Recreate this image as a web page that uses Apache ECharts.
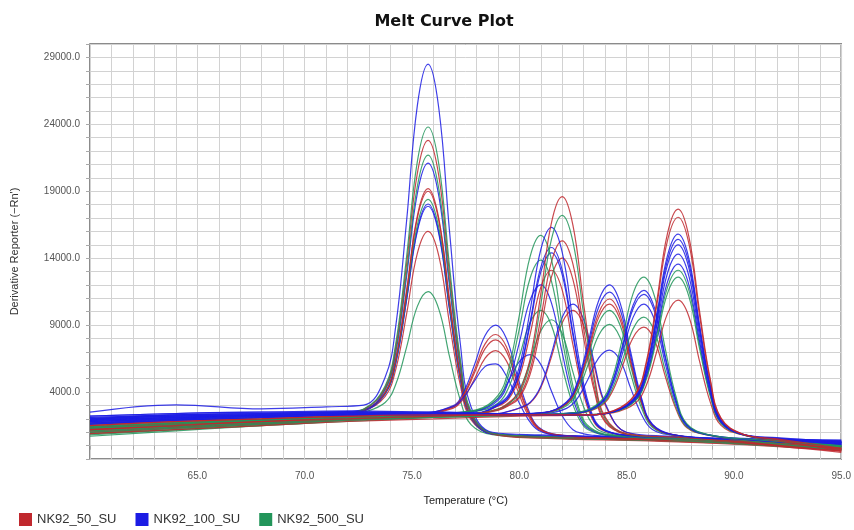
<!DOCTYPE html>
<html>
<head>
<meta charset="utf-8">
<script src="https://cdn.jsdelivr.net/npm/echarts@6/dist/echarts.min.js"></script>
<style>
  html, body { margin: 0; padding: 0; background: #fff; }
  #chart { width: 854px; height: 530px; }
</style>
</head>
<body>
<div id="chart"></div>
<script>
// ---------- Temperature grids (°C), one per peak group ----------
const TEMP_A = [60, 64, 68, 71, 72.75, 73.75, 74.25, 74.75, 75.25, 75.75, 76.25, 76.75, 77.25, 77.75, 78.75, 81, 86, 90, 95];
const TEMP_B = [60, 64, 68, 72, 75, 76.9, 77.4, 77.9, 78.4, 78.9, 79.4, 79.9, 80.4, 80.9, 81.9, 85, 90, 95];
const TEMP_C = [60, 64, 68, 72, 76, 78, 79, 79.5, 80, 80.5, 81, 81.5, 82, 82.5, 83, 83.5, 84, 85, 87, 90, 95];
const TEMP_D = [60, 64, 68, 72, 76, 79, 81.2, 82.2, 82.7, 83.2, 83.7, 84.2, 84.7, 85.2, 85.7, 86.2, 87.2, 90, 95];
const TEMP_E = [60, 64, 68, 72, 76, 80, 82.8, 83.8, 84.3, 84.8, 85.3, 85.8, 86.3, 86.8, 87.3, 87.8, 88.8, 91, 95];
const TEMP_F = [60, 64, 68, 72, 76, 80, 83, 84.4, 85.4, 85.9, 86.4, 86.9, 87.4, 87.9, 88.4, 88.9, 89.4, 90.4, 92, 95];

// ---------- Derivative reporter values (-Rn') ----------
// Group A (Tm ~75.7 °C)
const A1 = [2500, 3050, 2750, 2900, 3020, 5100, 9000, 16800, 25400, 28500, 25200, 16000, 7650, 2900, 1000, 800, 600, 400, 200];
const A2 = [1500, 1800, 2000, 2200, 2730, 4450, 7680, 14130, 21220, 23800, 21030, 13400, 6480, 2550, 930, 700, 500, 300, 100];
const A3 = [1300, 1600, 1900, 2100, 2710, 4350, 7430, 13580, 20340, 22800, 20150, 12860, 6230, 2470, 920, 650, 450, 250, -100];
const A4 = [1000, 1400, 1800, 2000, 2690, 4240, 7150, 12970, 19370, 21700, 19180, 12250, 5950, 2380, 910, 600, 400, 200, -300];
const A5 = [2100, 2300, 2400, 2500, 2680, 4180, 7000, 12640, 18840, 21100, 18650, 11920, 5800, 2330, 900, 700, 500, 350, 300];
const A6 = [1700, 1900, 2100, 2300, 2640, 3990, 6530, 11600, 17170, 19200, 16980, 10880, 5330, 2180, 890, 600, 400, 150, -200];
const A7 = [1400, 1700, 1900, 2200, 2630, 3970, 6480, 11490, 17000, 19000, 16800, 10770, 5280, 2170, 880, 550, 350, 100, -400];
const A8 = [1200, 1500, 1700, 2000, 2620, 3910, 6330, 11160, 16470, 18400, 16280, 10440, 5130, 2120, 880, 650, 450, 250, 0];
const A9 = [1900, 2100, 2300, 2400, 2620, 3880, 6240, 10960, 16160, 18050, 15970, 10240, 5040, 2090, 870, 750, 550, 400, 400];
const A10 = [1800, 2000, 2200, 2350, 2610, 3860, 6200, 10870, 16010, 17880, 15820, 10150, 5000, 2080, 870, 700, 500, 300, 200];
const A11 = [1100, 1400, 1600, 1900, 2580, 3670, 5730, 9840, 14360, 16000, 14170, 9120, 4530, 1930, 850, 600, 400, 200, -500];
const A12 = [700, 1100, 1500, 1800, 2490, 3220, 4600, 7360, 10400, 11500, 10200, 6640, 3400, 1570, 810, 600, 450, 300, 100];
// Group B (Tm ~78.9 °C)
const B1 = [2000, 2200, 2300, 2400, 2350, 2970, 3980, 5990, 8200, 9000, 8000, 5270, 2780, 1370, 780, 600, 400, 100];
const B2 = [1600, 1800, 2000, 2200, 2300, 2900, 3800, 5600, 7580, 8300, 7390, 4880, 2600, 1310, 780, 550, 300, -100];
const B3 = [1400, 1700, 1900, 2100, 2250, 2860, 3700, 5380, 7230, 7900, 7040, 4660, 2500, 1280, 770, 500, 250, -200];
const B4 = [1200, 1500, 1800, 2000, 2200, 2780, 3500, 4940, 6520, 7100, 6330, 4220, 2300, 1210, 760, 550, 350, 0];
const B5 = [1900, 2100, 2200, 2300, 2350, 2900, 3600, 4800, 5900, 6100, 5200, 3500, 2000, 1130, 750, 650, 450, 250];
// Group C (Tm ~80.5–82.5 °C)
const C1 = [1500, 1800, 2000, 2200, 2300, 2400, 2720, 3210, 4020, 6450, 11310, 16660, 18600, 16450, 10550, 5180, 2130, 880, 650, 400, -200];
const C2 = [1300, 1600, 1900, 2100, 2250, 2400, 2700, 3140, 3880, 6100, 10540, 15420, 17200, 15220, 9780, 4830, 2020, 870, 600, 350, -100];
const C3 = [2200, 2400, 2500, 2600, 2500, 2450, 3100, 3790, 5880, 10050, 14630, 16300, 14430, 9280, 4600, 1950, 1170, 750, 600, 450, 300];
const C4 = [1600, 1900, 2100, 2300, 2400, 2670, 3730, 5730, 9720, 14100, 15700, 13900, 8950, 4450, 1900, 1150, 850, 700, 550, 300, 0];
const C5 = [1100, 1400, 1700, 2000, 2200, 2400, 2660, 3050, 3690, 5630, 9500, 13750, 15300, 13550, 8730, 4350, 1870, 850, 600, 300, -300];
const C6 = [2000, 2200, 2300, 2400, 2450, 2400, 3020, 3640, 5500, 9220, 13310, 14800, 13110, 8460, 4230, 1830, 1120, 750, 600, 400, 200];
const C7 = [1700, 2000, 2200, 2350, 2400, 2400, 3000, 3600, 5400, 9000, 12960, 14400, 12760, 8240, 4130, 1800, 1110, 800, 650, 500, 400];
const C8 = [900, 1300, 1600, 1900, 2150, 2400, 2630, 2980, 3560, 5300, 8780, 12610, 14000, 12400, 8020, 4030, 1760, 830, 550, 250, -400];
const C9 = [1400, 1700, 1900, 2100, 2300, 2630, 3550, 5260, 8700, 12480, 13850, 12270, 7930, 3990, 1750, 1090, 830, 700, 500, 200, -200];
const C10 = [1300, 1600, 1800, 2100, 2300, 2400, 2940, 3470, 5080, 8290, 11820, 13100, 11610, 7520, 3800, 1690, 1070, 750, 500, 200, -300];
const C11 = [2000, 2300, 2400, 2500, 2500, 2450, 2400, 2560, 2810, 3220, 4440, 6890, 9590, 10570, 9390, 6130, 3170, 1000, 700, 500, 300];
const C12 = [1200, 1500, 1800, 2100, 2300, 2400, 2400, 2550, 2790, 3170, 4330, 6640, 9180, 10100, 8970, 5870, 3050, 980, 600, 300, -100];
const C13 = [800, 1200, 1600, 1900, 2200, 2550, 3170, 4330, 6640, 9180, 10100, 8970, 5870, 3050, 1450, 980, 790, 650, 450, 150, -300];
const C14 = [1000, 1300, 1600, 1900, 2200, 2400, 2750, 3100, 4150, 6250, 8560, 9400, 8360, 5490, 2880, 1400, 960, 700, 500, 250, -100];
const C15 = [1800, 2000, 2200, 2300, 2400, 2620, 3500, 4820, 6270, 6800, 6070, 4060, 2230, 1190, 880, 760, 720, 650, 500, 300, 100];
const C16 = [1900, 2100, 2300, 2400, 2400, 2590, 3360, 4800, 7680, 10850, 12000, 10640, 6920, 3530, 1600, 1040, 810, 700, 550, 350, 100];
// Group D (Tm ~84.2 °C)
const D1 = [2000, 2200, 2300, 2400, 2400, 2350, 2490, 3270, 4730, 7640, 10840, 12000, 10640, 6920, 3530, 1600, 810, 500, 200];
const D2 = [1700, 1900, 2100, 2300, 2350, 2300, 2480, 3220, 4590, 7340, 10360, 11460, 10170, 6620, 3390, 1560, 810, 450, 100];
const D3 = [1300, 1600, 1800, 2100, 2250, 2300, 2470, 3170, 4460, 7060, 9910, 10950, 9720, 6340, 3260, 1520, 800, 350, -300];
const D4 = [1000, 1300, 1600, 1900, 2150, 2300, 2470, 3130, 4370, 6850, 9580, 10570, 9390, 6130, 3170, 1490, 800, 300, -400];
const D5 = [1400, 1700, 1900, 2100, 2250, 2300, 2460, 3080, 4250, 6590, 9160, 10100, 8970, 5870, 3050, 1450, 790, 400, 0];
const D6 = [1100, 1400, 1700, 2000, 2200, 2300, 2440, 2980, 3990, 6020, 8250, 9060, 8060, 5300, 2790, 1370, 780, 350, -100];
const D7 = [1900, 2100, 2200, 2300, 2350, 2300, 2400, 2780, 3510, 4960, 6550, 7130, 6360, 4240, 2310, 1210, 760, 450, 200];
// Group E (Tm ~85.8 °C)
const E1 = [1300, 1600, 1900, 2100, 2250, 2300, 2510, 3330, 4870, 7950, 11350, 12580, 11150, 7230, 3670, 1650, 820, 450, 0];
const E2 = [2100, 2300, 2400, 2500, 2400, 2300, 2490, 3230, 4630, 7420, 10480, 11600, 10290, 6700, 3430, 1570, 810, 500, 300];
const E3 = [1800, 2000, 2200, 2350, 2350, 2300, 2480, 3200, 4550, 7250, 10220, 11300, 10030, 6530, 3350, 1550, 810, 450, 100];
const E4 = [1600, 1900, 2100, 2300, 2300, 2300, 2470, 3130, 4370, 6850, 9580, 10570, 9390, 6130, 3170, 1490, 800, 400, 0];
const E5 = [900, 1200, 1500, 1800, 2100, 2300, 2450, 3030, 4130, 6320, 8720, 9600, 8530, 5600, 2930, 1410, 790, 300, -300];
const E6 = [1200, 1500, 1700, 2000, 2200, 2300, 2430, 2960, 3940, 5900, 8060, 8850, 7870, 5180, 2740, 1350, 780, 300, -200];
// Group F (Tm ~87.4 °C)
const F1 = [1500, 1800, 2000, 2200, 2300, 2300, 2300, 2610, 3840, 6140, 10750, 15820, 17660, 15620, 10030, 4940, 2060, 870, 500, -200];
const F2 = [1200, 1500, 1800, 2000, 2200, 2300, 2300, 2600, 3780, 5990, 10420, 15290, 17060, 15100, 9700, 4790, 2010, 860, 450, -400];
const F3 = [2000, 2200, 2300, 2400, 2400, 2350, 2300, 2570, 3650, 5680, 9730, 14180, 15800, 13990, 9010, 4480, 1910, 850, 600, 300];
const F4 = [1800, 2000, 2200, 2300, 2350, 2300, 2300, 2560, 3610, 5580, 9510, 13830, 15400, 13640, 8790, 4380, 1880, 850, 550, 200];
const F5 = [1600, 1900, 2100, 2300, 2300, 2300, 2300, 2550, 3570, 5480, 9290, 13480, 15000, 13280, 8570, 4280, 1840, 840, 500, 100];
const F6 = [2200, 2400, 2500, 2500, 2450, 2350, 2300, 2540, 3500, 5300, 8900, 12860, 14300, 12670, 8180, 4100, 1790, 840, 550, 400];
const F7 = [1900, 2100, 2200, 2300, 2300, 2300, 2300, 2530, 3430, 5110, 8490, 12200, 13550, 12010, 7770, 3910, 1730, 830, 500, 200];
const F8 = [1000, 1300, 1600, 1900, 2100, 2250, 2300, 2520, 3380, 5000, 8240, 11800, 13100, 11610, 7520, 3800, 1690, 820, 400, -100];
const F9 = [1300, 1500, 1700, 2000, 2200, 2300, 2300, 2510, 3330, 4870, 7950, 11350, 12580, 11150, 7230, 3670, 1650, 820, 450, 0];
const F10 = [900, 1200, 1500, 1800, 2000, 2200, 2300, 2470, 3160, 4440, 7010, 9840, 10870, 9650, 6290, 3240, 1510, 800, 350, -300];

// ---------- Sample groups & tick labels ----------
const GROUPS = ['NK92_50_SU', 'NK92_100_SU', 'NK92_500_SU'];
const GROUP_COLORS = { 'NK92_50_SU': '#c0282e', 'NK92_100_SU': '#1c1ce4', 'NK92_500_SU': '#22955a' };
const X_TICK_LABELS = [65, 70, 75, 80, 85, 90, 95];
const Y_TICK_LABELS = [4000, 9000, 14000, 19000, 24000, 29000];

const R = 'NK92_50_SU', BL = 'NK92_100_SU', G = 'NK92_500_SU';
const CURVES = [
  [TEMP_A, A12, G], [TEMP_A, A11, R], [TEMP_A, A10, BL], [TEMP_A, A9, BL], [TEMP_A, A8, G],
  [TEMP_A, A7, R], [TEMP_A, A6, R], [TEMP_A, A5, BL], [TEMP_A, A4, G], [TEMP_A, A3, R],
  [TEMP_A, A2, G], [TEMP_A, A1, BL],
  [TEMP_B, B1, BL], [TEMP_B, B2, R], [TEMP_B, B3, R], [TEMP_B, B4, R], [TEMP_B, B5, BL],
  [TEMP_C, C15, BL], [TEMP_C, C14, G], [TEMP_C, C13, G], [TEMP_C, C12, R], [TEMP_C, C11, BL],
  [TEMP_C, C10, R], [TEMP_C, C16, BL], [TEMP_C, C9, G], [TEMP_C, C8, R], [TEMP_C, C7, BL],
  [TEMP_C, C6, BL], [TEMP_C, C5, R], [TEMP_C, C4, G], [TEMP_C, C3, BL], [TEMP_C, C2, G], [TEMP_C, C1, R],
  [TEMP_D, D7, BL], [TEMP_D, D6, G], [TEMP_D, D5, G], [TEMP_D, D4, R], [TEMP_D, D3, R], [TEMP_D, D2, BL], [TEMP_D, D1, BL],
  [TEMP_E, E6, R], [TEMP_E, E5, G], [TEMP_E, E4, BL], [TEMP_E, E3, BL], [TEMP_E, E2, BL], [TEMP_E, E1, G],
  [TEMP_F, F10, R], [TEMP_F, F9, G], [TEMP_F, F8, G], [TEMP_F, F7, BL], [TEMP_F, F6, BL],
  [TEMP_F, F5, BL], [TEMP_F, F4, BL], [TEMP_F, F3, BL], [TEMP_F, F2, R], [TEMP_F, F1, R]
];

const series = CURVES.map(([temps, vals, grp]) => ({
  name: grp,
  type: 'line',
  data: temps.map((t, i) => [t, vals[i]]),
  showSymbol: false,
  smooth: 0.4,
  lineStyle: { width: 1.2, color: GROUP_COLORS[grp], opacity: 0.85 },
  itemStyle: { color: GROUP_COLORS[grp] },
  emphasis: { disabled: true },
  z: 2
}));

const chart = echarts.init(document.getElementById('chart'), null, { renderer: 'canvas' });
chart.setOption({
  animation: false,
  backgroundColor: '#ffffff',
  title: {
    text: 'Melt Curve Plot',
    left: 439,
    textAlign: 'center',
    top: 9,
    textStyle: { fontFamily: 'DejaVu Sans', fontWeight: 'bold', fontSize: 16, color: '#111' }
  },
  legend: {
    data: GROUPS.map(n => ({ name: n, icon: 'rect' })),
    left: 14,
    top: 508,
    itemWidth: 13,
    itemHeight: 13,
    itemGap: 19,
    textStyle: { fontFamily: 'Liberation Sans', fontSize: 13, color: '#333' }
  },
  grid: {
    left: 90, right: 10, top: 44, bottom: 71,
    show: true, borderColor: '#666', borderWidth: 1.5, backgroundColor: '#fff'
  },
  xAxis: {
    type: 'value',
    min: 60, max: 95, interval: 1,
    name: 'Temperature (°C)',
    nameLocation: 'middle',
    nameGap: 36,
    nameTextStyle: { fontFamily: 'Liberation Sans', fontSize: 11, color: '#222' },
    axisLine: { show: false },
    axisTick: { show: true, length: 4, lineStyle: { color: '#aaa' } },
    splitLine: { show: true, lineStyle: { color: '#d2d2d2', width: 1 } },
    axisLabel: {
      margin: 12,
      fontFamily: 'Liberation Sans', fontSize: 10, color: '#555',
      formatter: v => X_TICK_LABELS.includes(v) ? v.toFixed(1) : ''
    }
  },
  yAxis: {
    type: 'value',
    min: -1000, max: 30000, interval: 1000,
    name: "Derivative Reporter (\u2212Rn')",
    nameLocation: 'middle',
    nameGap: 70,
    nameRotate: 90,
    nameTextStyle: { fontFamily: 'Liberation Sans', fontSize: 11, color: '#333' },
    axisLine: { show: false },
    axisTick: { show: true, length: 4, lineStyle: { color: '#aaa' } },
    splitLine: { show: true, lineStyle: { color: '#d2d2d2', width: 1 } },
    axisLabel: {
      margin: 10,
      fontFamily: 'Liberation Sans', fontSize: 10, color: '#555',
      formatter: v => Y_TICK_LABELS.includes(v) ? v.toFixed(1) : ''
    }
  },
  series: series
});
</script>
</body>
</html>
